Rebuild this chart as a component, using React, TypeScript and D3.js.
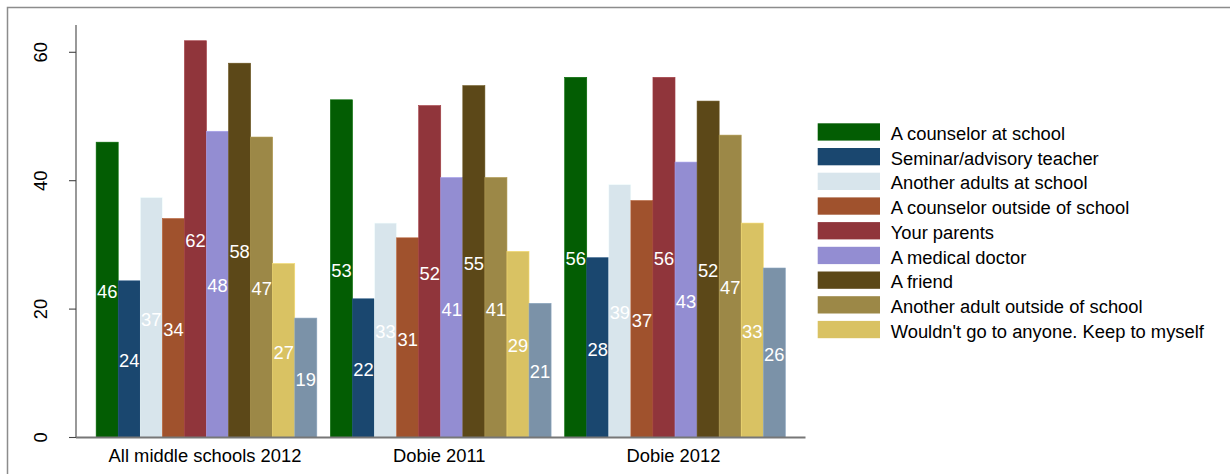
import React from "react";
import * as d3 from "d3";

const groups = ["All middle schools 2012", "Dobie 2011", "Dobie 2012"];
const seriesNames = [
  "A counselor at school",
  "Seminar/advisory teacher",
  "Another adults at school",
  "A counselor outside of school",
  "Your parents",
  "A medical doctor",
  "A friend",
  "Another adult outside of school",
  "Wouldn't go to anyone. Keep to myself",
  "",
];
const seriesColors = [
  "#035d03",
  "#1a476f",
  "#d8e5ec",
  "#a0522d",
  "#90353b",
  "#938dd2",
  "#5c4818",
  "#9c8847",
  "#d9c263",
  "#7b92a8",
];
const valuesAll2012 = [46.0, 24.4, 37.4, 34.1, 61.8, 47.7, 58.3, 46.8, 27.1, 18.6];
const valuesDobie2011 = [52.6, 21.6, 33.4, 31.1, 51.7, 40.5, 54.8, 40.5, 29.0, 20.9];
const valuesDobie2012 = [56.1, 28.0, 39.4, 36.9, 56.1, 42.9, 52.4, 47.1, 33.4, 26.4];
const yTicks = [0, 20, 40, 60];

const FONT = "'Liberation Sans', Arial, Helvetica, sans-serif";
const FS = 18.35;

export default function App() {
  const W = 1230;
  const H = 474;
  const values = [valuesAll2012, valuesDobie2011, valuesDobie2012];

  const y = d3.scaleLinear().domain([0, 64.25]).range([437.5, 25]);
  const x0 = d3
    .scaleBand<string>()
    .domain(groups)
    .range([76, 805.5])
    .paddingInner(0.058)
    .paddingOuter(0.086);
  const x1 = d3
    .scaleBand<number>()
    .domain(d3.range(seriesNames.length))
    .range([0, x0.bandwidth()])
    .padding(0);
  const fmt = d3.format(".0f");

  const legendItems = seriesNames
    .map((name, i) => ({ name, color: seriesColors[i] }))
    .filter((d) => d.name !== "");

  return (
    <svg
      width={W}
      height={H}
      style={{ position: "absolute", left: 0, top: 0, background: "#fff" }}
      fontFamily={FONT}
    >
      <rect x={7.5} y={7.5} width={1400} height={600} fill="#fff" stroke="#8c8c8c" strokeWidth={1.5} />

      {groups.map((g, gi) => (
        <g key={g} transform={`translate(${x0(g)},0)`}>
          {values[gi].map((v, si) => (
            <rect
              key={si}
              x={x1(si)}
              y={y(v)}
              width={x1.bandwidth()}
              height={y(0) - y(v)}
              fill={seriesColors[si]}
              stroke={d3.color(seriesColors[si])!.brighter(0.35).toString()}
              strokeWidth={0.6}
            />
          ))}
          {values[gi].map((v, si) => (
            <text
              key={"t" + si}
              x={(x1(si) as number) + x1.bandwidth() / 2}
              y={(y(v) + y(0)) / 2}
              dy="0.44em"
              textAnchor="middle"
              fontSize={FS}
              fill="#fff"
            >
              {fmt(v)}
            </text>
          ))}
          <text
            x={x0.bandwidth() / 2 - 1.5}
            y={461.5}
            textAnchor="middle"
            fontSize={FS}
            fill="#000"
          >
            {g}
          </text>
        </g>
      ))}

      <line x1={76} x2={76} y1={25} y2={y(0)} stroke="#444" strokeWidth={1.1} />
      {yTicks.map((t) => (
        <g key={t}>
          <line x1={69} x2={76} y1={y(t)} y2={y(t)} stroke="#444" strokeWidth={1.1} />
          <text
            transform={`translate(46.5,${y(t)}) rotate(-90)`}
            textAnchor="middle"
            fontSize={FS}
            fill="#000"
          >
            {t}
          </text>
        </g>
      ))}
      <line x1={76} x2={805.5} y1={y(0)} y2={y(0)} stroke="#777" strokeWidth={1.8} />

      {legendItems.map((d, i) => (
        <g key={d.name} transform={`translate(817.7,${123.3 + i * 24.7})`}>
          <rect width={62.3} height={17.3} fill={d.color} />
          <text x={73} y={16.7} fontSize={FS} fill="#000">
            {d.name}
          </text>
        </g>
      ))}
    </svg>
  );
}
